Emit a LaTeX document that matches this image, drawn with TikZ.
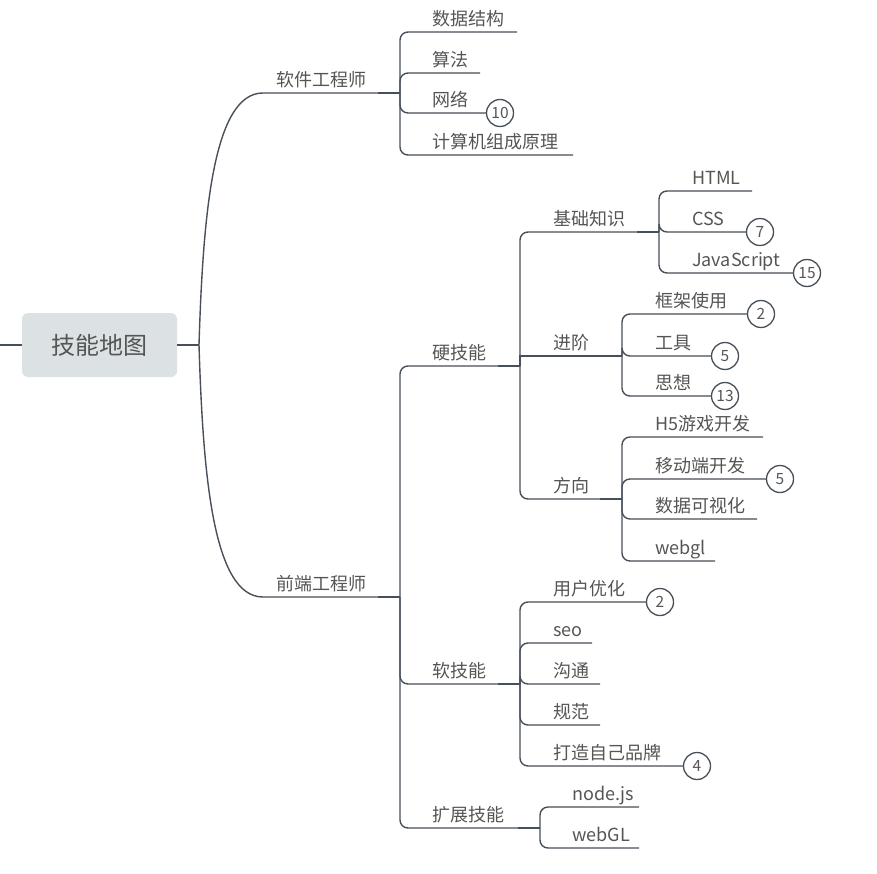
\documentclass[tikz,border=0pt]{standalone}
\usepackage{fontspec}
\setmainfont{Noto Sans CJK SC}
\usetikzlibrary{calc}

\definecolor{linec}{HTML}{474F59}
\definecolor{textc}{HTML}{555555}
\definecolor{rootfill}{HTML}{DCE2E3}

\tikzset{
  stem/.style={draw=linec, line width=1.4pt},
  link/.style={draw=linec, line width=1.4pt, rounded corners=8pt},
  joint/.style={draw=linec, line width=2.6pt},
  topic/.style={anchor=base west, inner sep=0pt, text=textc,
    font=\fontsize{18}{18}\selectfont},
  badge/.style={circle, draw=linec, line width=1.3pt, fill=white,
    minimum size=27pt, inner sep=0pt, text=textc,
    font=\fontsize{15.5}{15.5}\selectfont},
  rootbox/.style={rectangle, rounded corners=6pt, fill=rootfill,
    minimum width=155pt, minimum height=64pt, inner sep=0pt, text=textc,
    font=\fontsize{24}{24}\selectfont},
}

% plain subtopic: [opts] fork, name, y, end x, text x, label
\newcommand\mmleaf[7][]{%
  \coordinate (#3-end) at (#5,#4);
  \draw[link,#1] (#2) |- (#3-end);
  \node[topic] (#3) at (#6,#4-6.5) {#7};
}
% subtopic with a counter badge: [opts] fork, name, y, badge x, text x, label, count
\newcommand\mmbadge[8][]{%
  \node[badge] (#3-n) at (#5,#4) {#8};
  \draw[link,#1] (#2) |- (#3-n.west);
  \node[topic] (#3) at (#6,#4-6.5) {#7};
}
% heavier stub where a topic line meets its fork
\newcommand\mmjoint[1]{\draw[joint] ($(#1)+(-22,0)$) -- (#1);}

\begin{document}
\begin{tikzpicture}[x=1pt,y=-1pt]
\useasboundingbox (0,0) rectangle (877,874);

% central topic
\node[rootbox] (root) at (99.5,345) {技能地图};
\coordinate (edge) at (0,345);
\coordinate (root-fork) at (199,345);
\draw[joint] (edge) -- (root.west);
\draw[joint] (root.east) -- (root-fork);

% main topics
\coordinate (sw-fork) at (400,93);
\coordinate (fe-fork) at (400,597);
\draw[stem] (root-fork) .. controls (203,215) and (213,93) .. (263,93) -- (sw-fork);
\draw[stem] (root-fork) .. controls (203,475) and (213,597) .. (263,597) -- (fe-fork);
\node[topic] (sw) at (276,86.5) {软件工程师};
\node[topic] (fe) at (276,590.5) {前端工程师};
\mmjoint{sw-fork}
\mmjoint{fe-fork}

% software engineer
\mmleaf{sw-fork}{ds}{32}{517}{432}{数据结构}
\mmleaf{sw-fork}{algo}{73}{480}{432}{算法}
\mmbadge{sw-fork}{net}{113}{500}{432}{网络}{10}
\mmleaf{sw-fork}{arch}{155}{573}{432}{计算机组成原理}

% front-end engineer
\mmleaf{fe-fork}{hard}{366}{520}{432}{硬技能}
\mmleaf{fe-fork}{soft}{684}{520}{432}{软技能}
\mmleaf{fe-fork}{ext}{828}{540}{432}{扩展技能}
\mmjoint{hard-end}
\mmjoint{soft-end}
\mmjoint{ext-end}

% hard skills
\mmleaf{hard-end}{basic}{232}{659}{553}{基础知识}
\mmleaf[sharp corners]{hard-end}{adv}{356}{622}{553}{进阶}
\mmleaf{hard-end}{dir}{499}{622}{553}{方向}
\mmjoint{basic-end}
\mmjoint{adv-end}
\mmjoint{dir-end}

\mmleaf{basic-end}{html}{191}{752}{692}{HTML}
\mmbadge{basic-end}{css}{232}{760}{692}{CSS}{7}
\mmbadge{basic-end}{js}{273}{807}{692}{JavaScript}{15}

\mmbadge{adv-end}{frame}{314}{761}{655}{框架使用}{2}
\mmbadge{adv-end}{tool}{356}{725}{655}{工具}{5}
\mmbadge{adv-end}{idea}{396}{725}{655}{思想}{13}

\mmleaf{dir-end}{h5}{437}{763}{655}{H5游戏开发}
\mmbadge{dir-end}{mobile}{479}{780}{655}{移动端开发}{5}
\mmleaf{dir-end}{vis}{519}{757}{655}{数据可视化}
\mmleaf{dir-end}{gl}{561}{715}{655}{webgl}

% soft skills
\mmbadge{soft-end}{ux}{602}{660}{553}{用户优化}{2}
\mmleaf{soft-end}{seo}{643}{592}{553}{seo}
\mmleaf{soft-end}{talk}{684}{600}{553}{沟通}
\mmleaf{soft-end}{spec}{725}{600}{553}{规范}
\mmbadge{soft-end}{brand}{766}{697}{553}{打造自己品牌}{4}

% extended skills
\mmleaf{ext-end}{nodejs}{807}{639}{572}{node.js}
\mmleaf{ext-end}{webglx}{848}{639}{572}{webGL}

\end{tikzpicture}
\end{document}
